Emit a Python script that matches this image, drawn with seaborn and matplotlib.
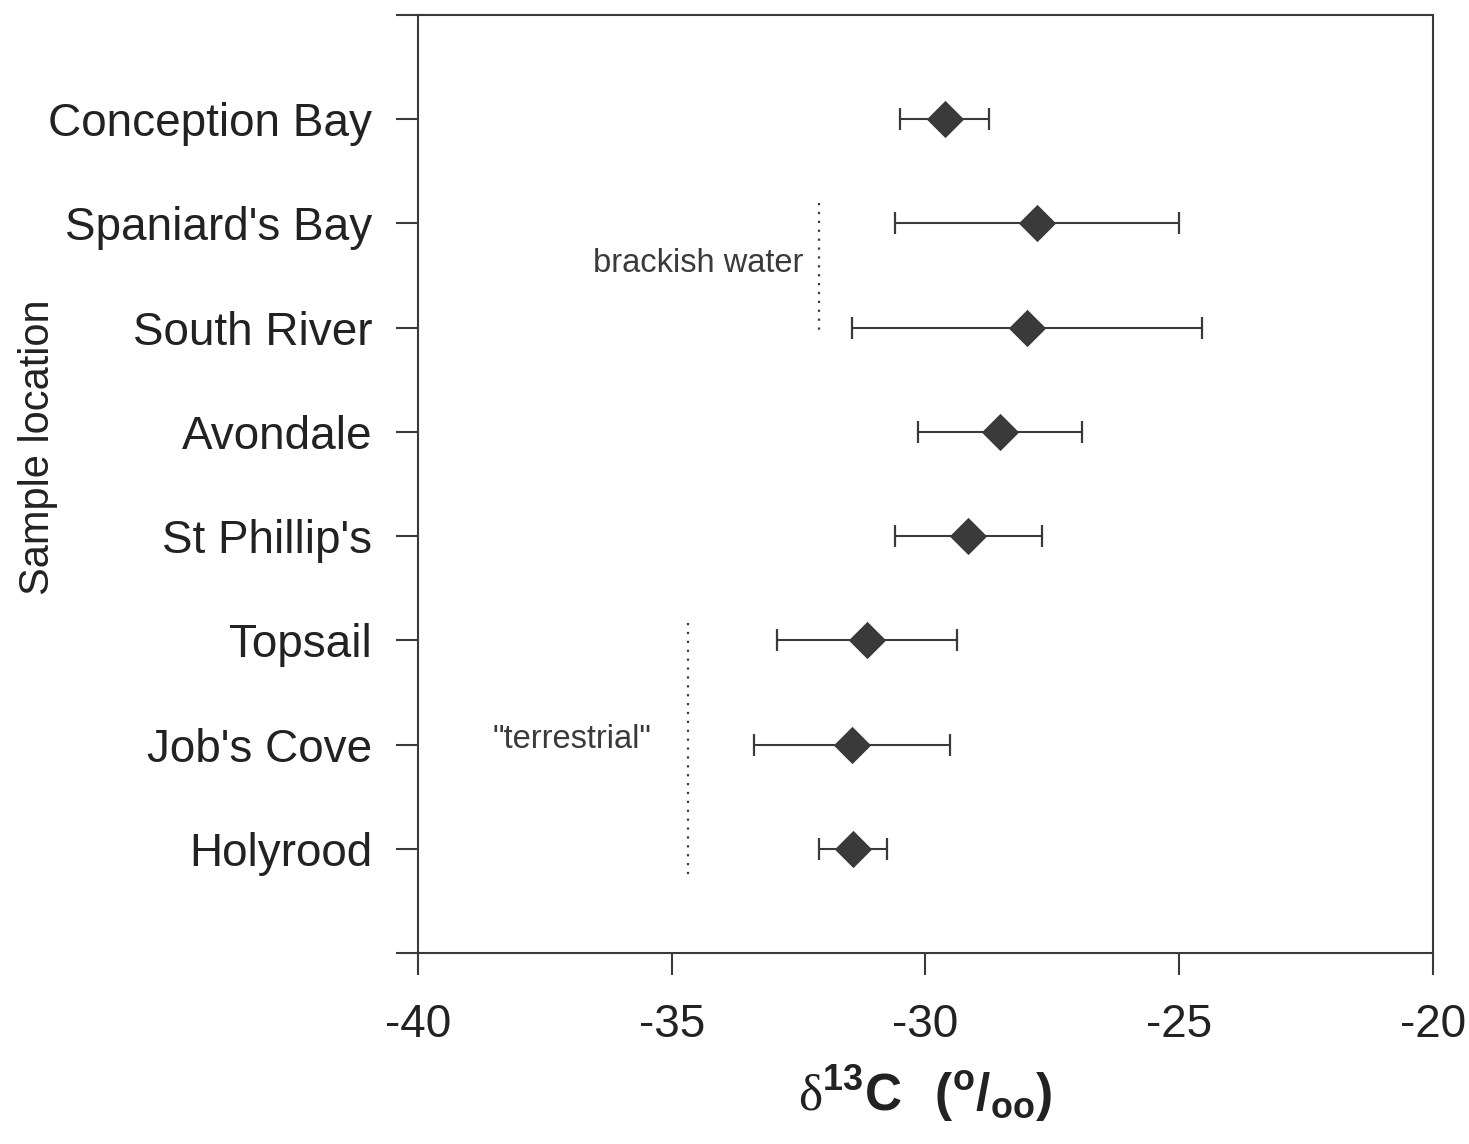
import seaborn as sns
import numpy as np
import pandas as pd
import matplotlib.pyplot as plt

sites = ["Conception Bay", "Spaniard's Bay", "South River", "Avondale",
         "St Phillip's", "Topsail", "Job's Cove", "Holyrood"]
d13c = [-29.62, -27.80, -28.00, -28.53, -29.16, -31.15, -31.45, -31.43]
err = [0.88, 2.80, 3.44, 1.62, 1.45, 1.78, 1.93, 0.67]

sns.set_style("ticks")
plt.rcParams['font.family'] = ['Liberation Sans', 'DejaVu Sans']
plt.rcParams['axes.unicode_minus'] = False
plt.rcParams['mathtext.fontset'] = 'custom'
plt.rcParams['mathtext.rm'] = 'Liberation Serif'
plt.rcParams['mathtext.bf'] = 'Liberation Sans:bold'

dark = '#3a3a3a'
df = pd.DataFrame({'site': sites, 'd13c': d13c, 'err': err})

fig = plt.figure(figsize=(14.69, 11.44), dpi=100)
ax = fig.add_axes([0.2845, 0.167, 0.691, 0.8199])

ax.errorbar(df['d13c'], np.arange(len(sites)), xerr=df['err'], fmt='none',
            ecolor=dark, elinewidth=1.5, capsize=8, capthick=1.6, zorder=2)
sns.scatterplot(data=df, x='d13c', y='site', marker='D', s=19**2, color=dark,
                edgecolor=dark, linewidth=0, ax=ax, zorder=3, legend=False)

# dotted guide lines
ax.plot([-32.10, -32.10], [0.80, 2.02], ls=(0, (1, 3)), color=dark, lw=1.6)
ax.plot([-34.68, -34.68], [4.83, 7.30], ls=(0, (1, 3)), color=dark, lw=1.6)
ax.text(-32.41, 1.38, "brackish water", fontsize=23.5, ha='right', va='center', color=dark)
ax.text(-35.39, 5.95, '"terrestrial"', fontsize=23.5, ha='right', va='center', color=dark)

ax.set_xlim(-40, -20)
ax.set_ylim(8, -1)
ax.set_xticks([-40, -35, -30, -25, -20])
ax.set_yticks(np.arange(-1, 9))
ax.set_yticklabels([''] + sites + [''])

ax.tick_params(axis='both', direction='out', length=16, width=1.5, colors=dark,
               labelsize=33, labelcolor='#222222')
ax.tick_params(axis='y', pad=17)
ax.tick_params(axis='x', pad=20)
for sp in ax.spines.values():
    sp.set_visible(True)
    sp.set_color(dark)
    sp.set_linewidth(1.5)

ax.set_ylabel("Sample location", fontsize=30, color='#222222')
ax.yaxis.set_label_coords(-0.355, 0.539)
ax.set_xlabel(r'$\mathrm{\delta}^{\mathbf{13}}\mathbf{C}\ \ \mathbf{(}^{\mathbf{o}}\mathbf{/}_{\mathbf{oo}}\mathbf{)}$',
              fontsize=37, color='#222222', labelpad=12)

fig.savefig('out.png', dpi=100, facecolor='white')
